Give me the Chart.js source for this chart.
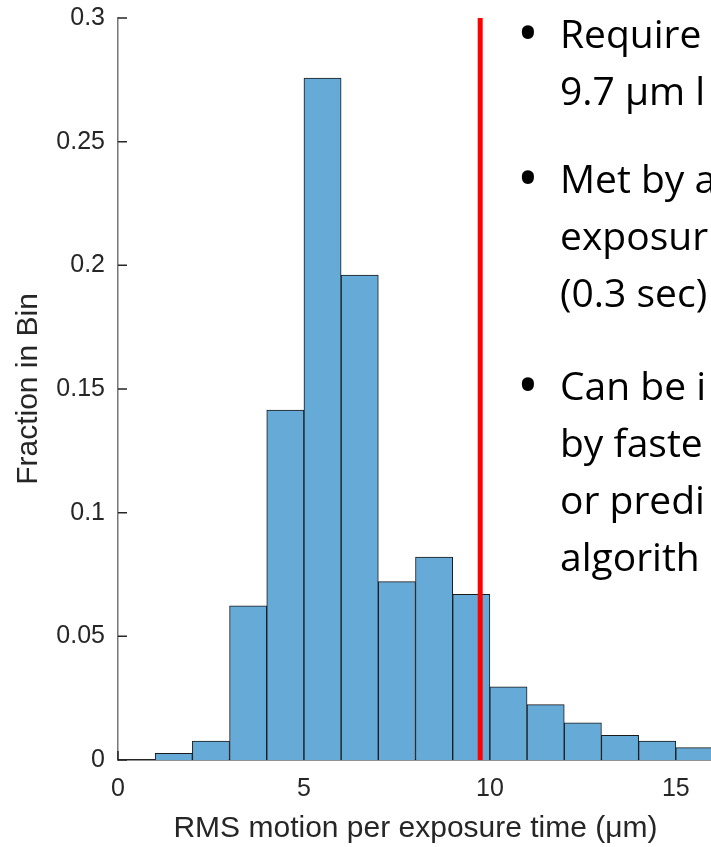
<!DOCTYPE html>
<html>
<head>
<meta charset="utf-8">
<script src="https://cdn.jsdelivr.net/npm/chart.js@4.4.0/dist/chart.umd.min.js"></script>
<style>
  html, body { margin: 0; padding: 0; background: #fff; overflow: hidden; width: 711px; height: 847px; }
  #wrap { position: absolute; left: 0; top: 0; width: 730px; height: 847px; }
  .para { position: absolute; left: 560px; font-family: "Open Sans", sans-serif; font-size: 39px; line-height: 57px; color: #000; white-space: nowrap; }
  .para .dot { position: absolute; left: -43px; top: -1px; font-size: 58px; line-height: 58px; }
</style>
</head>
<body>
<div id="wrap"><canvas id="hist" width="730" height="847"></canvas></div>
<div class="para" style="top:4px"><span class="dot">•</span>Require<br>9.7 µm l</div>
<div class="para" style="top:149px"><span class="dot">•</span>Met by a<br>exposur<br>(0.3 sec)</div>
<div class="para" style="top:356px"><span class="dot">•</span>Can be i<br>by faste<br>or predi<br>algorith</div>
<script>
// histogram bins (width 1 um), centres and fraction of samples per bin
const binCenters = [1.5, 2.5, 3.5, 4.5, 5.5, 6.5, 7.5, 8.5, 9.5, 10.5, 11.5, 12.5, 13.5, 14.5, 15.5];
const fractions = [0.0027, 0.0077, 0.0623, 0.1415, 0.2757, 0.1961, 0.0721, 0.082, 0.067, 0.0296, 0.0224, 0.015, 0.010, 0.0076, 0.005];
const threshold = 9.74;
const yTickLabels = ['0', '0.05', '0.1', '0.15', '0.2', '0.25', '0.3'];

const axisFont = { family: '"Liberation Sans", Arial, sans-serif', size: 25 };
const titleFont = { family: '"Liberation Sans", Arial, sans-serif', size: 30 };

// MATLAB style ticks pointing into the plot
const innerTicks = {
  id: 'innerTicks',
  beforeDatasetsDraw(chart) {
    const ctx = chart.ctx;
    const area = chart.chartArea;
    const xs = chart.scales.x, ys = chart.scales.y;
    ctx.save();
    ctx.strokeStyle = '#262626';
    ctx.lineWidth = 1.5;
    ctx.beginPath();
    ys.ticks.forEach(t => {
      const py = ys.getPixelForValue(t.value);
      ctx.moveTo(area.left, py);
      ctx.lineTo(area.left + 9, py);
    });
    xs.ticks.forEach(t => {
      const px = xs.getPixelForValue(t.value);
      ctx.moveTo(px, area.bottom);
      ctx.lineTo(px, area.bottom - 9);
    });
    ctx.stroke();
    ctx.restore();
  }
};

new Chart(document.getElementById('hist'), {
  data: {
    datasets: [
      {
        type: 'line',
        data: [{ x: threshold, y: 0 }, { x: threshold, y: 0.3 }],
        borderColor: '#ff0000',
        borderWidth: 5,
        pointRadius: 0,
        order: 0
      },
      {
        type: 'bar',
        data: binCenters.map((c, i) => ({ x: c, y: fractions[i] })),
        backgroundColor: '#66aad7',
        borderColor: '#1a1a1a',
        borderWidth: 1,
        barPercentage: 1,
        categoryPercentage: 1,
        order: 1
      }
    ]
  },
  options: {
    responsive: false,
    animation: false,
    devicePixelRatio: 1,
    layout: { padding: { top: 18, right: 17, left: 0, bottom: 0 } },
    plugins: { legend: { display: false }, tooltip: { enabled: false } },
    scales: {
      x: {
        type: 'linear',
        min: 0,
        max: 16,
        offset: false,
        grid: { display: false, drawTicks: false },
        border: { display: true, color: '#262626', width: 1.5 },
        ticks: { stepSize: 5, includeBounds: false, font: axisFont, color: '#262626', padding: 14, maxRotation: 0 },
        title: { display: true, text: 'RMS motion per exposure time (μm)', font: titleFont, color: '#262626', padding: { top: 0, bottom: 0 } },
        afterFit(s) { s.height = 87; }
      },
      y: {
        min: 0,
        max: 0.3,
        grid: { display: false, drawTicks: false },
        border: { display: true, color: '#777777', width: 1.5 },
        ticks: {
          stepSize: 0.05,
          font: axisFont,
          color: '#262626',
          padding: 13,
          callback: (v, i) => yTickLabels[i]
        },
        title: { display: true, text: 'Fraction in Bin', font: titleFont, color: '#262626', padding: { top: 11, bottom: 0 } },
        afterFit(s) { s.width = 118; s.paddingTop = 0; s.paddingBottom = 0; }
      }
    }
  },
  plugins: [innerTicks]
});
</script>
</body>
</html>
